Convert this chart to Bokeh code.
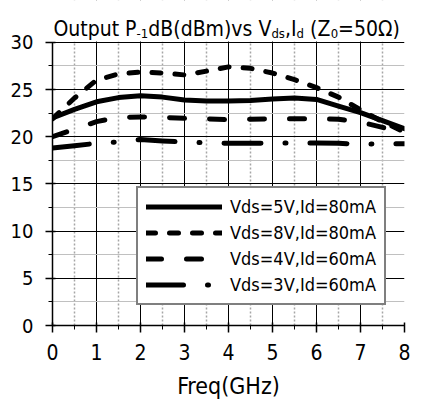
from bokeh.plotting import figure
from bokeh.models import Legend, LegendItem, FixedTicker, Range1d
from bokeh.core.properties import value
from bokeh.embed import file_html
from bokeh.resources import INLINE

freq = [0, 0.5, 1, 1.5, 2, 2.5, 3, 3.5, 4, 4.5, 5, 5.5, 6, 6.5, 7, 7.5, 8]
p1db_5v80 = [22.0, 22.9, 23.7, 24.15, 24.35, 24.2, 23.9, 23.8, 23.8, 23.85, 24.0, 24.1, 23.95, 23.25, 22.55, 21.7, 20.85]
p1db_8v80 = [21.9, 24.1, 26.0, 26.65, 26.85, 26.75, 26.55, 26.95, 27.4, 27.25, 26.75, 26.05, 25.2, 24.2, 22.85, 21.6, 20.5]
p1db_4v60 = [20.0, 20.8, 21.6, 22.05, 22.1, 22.05, 21.95, 21.9, 21.8, 21.85, 21.9, 21.9, 21.9, 21.85, 21.55, 21.0, 20.3]
p1db_3v60 = [18.8, 19.05, 19.3, 19.45, 19.7, 19.55, 19.45, 19.35, 19.3, 19.3, 19.35, 19.35, 19.35, 19.3, 19.2, 19.25, 19.25]
series_labels = ["Vds=5V,Id=80mA", "Vds=8V,Id=80mA", "Vds=4V,Id=60mA", "Vds=3V,Id=60mA"]
x_ticks = [0, 1, 2, 3, 4, 5, 6, 7, 8]
x_minor = [0.5, 1.5, 2.5, 3.5, 4.5, 5.5, 6.5, 7.5]
y_ticks = [0, 5, 10, 15, 20, 25, 30]
y_minor = [2.5, 7.5, 12.5, 17.5, 22.5, 27.5]
x_title = "Freq(GHz)"
# title "Output P-1dB(dBm)vs Vds,Id (Z0=50Ω)" split into normal and subscript runs
title_main = ["Output P", "dB(dBm)vs V", ",I", "(Z", "=50\u03a9)"]
title_sub = ["-1", "ds", "d", "0"]

FONT = "DejaVu Sans Condensed"
W, H = 410, 401
MB_LEFT, MB_RIGHT, MB_BOTTOM = 52, 6, 75
Y30_PX = 42            # pixel row of the value 30 (frame extends above it for the title)
X_MAX, Y_MAX = 8, 30

unit_y = (H - MB_BOTTOM - Y30_PX) / Y_MAX
unit_x = (W - MB_LEFT - MB_RIGHT) / X_MAX
y_end = Y_MAX + Y30_PX / unit_y

# title run positions in pixels (left edge, baseline row)
title_main_px = [53, 147.8, 284.4, 309.6, 337.6]
title_sub_px = [136.1, 270.9, 296.0, 330.2]
TITLE_BASE_PX, SUB_BASE_PX = 29, 33


def px_to_x(px):
    return (px - MB_LEFT) / unit_x


def row_to_y(row):
    return Y_MAX + (Y30_PX - row) / unit_y


p = figure(width=W, height=H, x_range=Range1d(0, X_MAX), y_range=Range1d(0, y_end),
           output_backend="svg", toolbar_location=None,
           min_border_left=MB_LEFT, min_border_right=MB_RIGHT, min_border_top=0,
           min_border_bottom=MB_BOTTOM)
p.outline_line_color = None
p.background_fill_color = "white"
p.border_fill_color = "white"

p.xaxis.ticker = FixedTicker(ticks=x_ticks, minor_ticks=x_minor)
p.yaxis.ticker = FixedTicker(ticks=y_ticks, minor_ticks=y_minor)
p.xgrid.ticker = p.xaxis.ticker
p.ygrid.ticker = p.yaxis.ticker
p.yaxis.bounds = (0, Y_MAX)

for ax in (p.xaxis, p.yaxis):
    ax.axis_line_color = "black"
    ax.axis_line_width = 1.5
    ax.major_tick_line_color = "black"
    ax.major_tick_line_width = 1.5
    ax.minor_tick_line_color = "black"
    ax.minor_tick_line_width = 1
    ax.major_tick_in = 3
    ax.major_tick_out = 7
    ax.minor_tick_in = 0
    ax.minor_tick_out = 4
    ax.major_label_text_font = FONT
    ax.major_label_text_color = "black"

p.xaxis.major_label_text_font_size = "21px"
p.yaxis.major_label_text_font_size = "20px"
p.xaxis.major_label_standoff = 11
p.yaxis.major_label_standoff = 12
p.xaxis.axis_label = x_title
p.xaxis.axis_label_text_font = FONT
p.xaxis.axis_label_text_font_size = "23px"
p.xaxis.axis_label_text_font_style = "normal"
p.xaxis.axis_label_text_color = "black"
p.xaxis.axis_label_standoff = 10

p.xgrid.grid_line_color = "black"
p.xgrid.grid_line_width = 1
p.ygrid.grid_line_color = "black"
p.ygrid.grid_line_width = 1
p.xgrid.minor_grid_line_color = "#a6a6a6"
p.xgrid.minor_grid_line_dash = "2 2"
p.xgrid.minor_grid_line_width = 1.5
p.ygrid.minor_grid_line_color = "#c0c0c0"
p.ygrid.minor_grid_line_width = 1

# white strip above the value 30 hides the grid there, leaving room for the title
p.quad(left=[0], right=[X_MAX], bottom=[Y_MAX + 0.8 / unit_y], top=[y_end],
       fill_color="white", line_color=None)

dashes = ["solid", "9 14", "15 25", "37 24 1 24"]
series = [p1db_5v80, p1db_8v80, p1db_4v60, p1db_3v60]
items = []
for vals, dash, lab in zip(series, dashes, series_labels):
    r = p.line(freq, vals, line_color="black", line_width=5, line_dash=dash,
               line_cap="round", line_join="round")
    items.append(LegendItem(label=lab, renderers=[r]))

p.text(x=[px_to_x(v) for v in title_main_px], y=[row_to_y(TITLE_BASE_PX)] * len(title_main),
       text=title_main, text_font=value(FONT), text_font_size=value("21px"),
       text_color="black", text_align="left", text_baseline="alphabetic")
p.text(x=[px_to_x(v) for v in title_sub_px], y=[row_to_y(SUB_BASE_PX)] * len(title_sub),
       text=title_sub, text_font=value(FONT), text_font_size=value("13px"),
       text_color="black", text_align="left", text_baseline="alphabetic")

legend = Legend(items=items, location=(84, 20), orientation="vertical",
                label_text_font=FONT, label_text_font_size="18px", label_text_color="black",
                glyph_width=76, glyph_height=21, label_height=21, label_standoff=8,
                spacing=5, padding=8, margin=0,
                border_line_color="black", border_line_width=2,
                background_fill_color="white", background_fill_alpha=1)
p.add_layout(legend)

open("out.html", "w").write(file_html(p, INLINE))
